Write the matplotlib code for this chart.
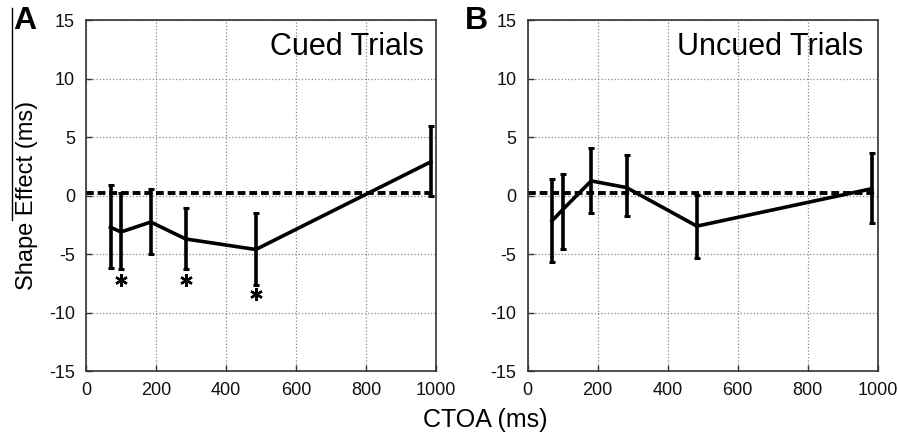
import matplotlib
matplotlib.use("Agg")
import matplotlib.pyplot as plt
from matplotlib.lines import Line2D

plt.rcParams['font.family'] = ['Liberation Sans', 'DejaVu Sans']

# Data
ctoa_cued = [70, 100, 185, 285, 485, 985]
cued_mean = [-2.7, -3.1, -2.25, -3.7, -4.6, 2.9]
cued_upper = [0.9, 0.2, 0.6, -1.05, -1.5, 6.0]
cued_lower = [-6.2, -6.3, -5.0, -6.3, -7.6, 0.0]

ctoa_uncued = [70, 100, 182, 283, 484, 983]
uncued_mean = [-2.15, -1.2, 1.27, 0.7, -2.6, 0.6]
uncued_upper = [1.4, 1.9, 4.1, 3.45, 0.1, 3.65]
uncued_lower = [-5.65, -4.6, -1.5, -1.75, -5.3, -2.3]

baseline = 0.25
sig_x = [100, 285, 485]
sig_y = [-7.2, -7.2, -8.45]

xticks = [0, 200, 400, 600, 800, 1000]
yticks = [-15, -10, -5, 0, 5, 10, 15]

fig = plt.figure(figsize=(8.98, 4.36), dpi=100)
axA = fig.add_axes([86/898, 65/436, 350/898, 350.5/436])
axB = fig.add_axes([527.5/898, 65/436, 350/898, 350.5/436])

def draw(ax, x, m, up, lo, title, title_x):
    yerr = [[mi - l for mi, l in zip(m, lo)], [u - mi for mi, u in zip(m, up)]]
    ax.axhline(baseline, color='black', lw=2.8, ls=(0, (2, 1)), zorder=2)
    ax.errorbar(x, m, yerr=yerr, color='black', lw=2.6, elinewidth=2.6,
                capsize=2.5, capthick=2.2, zorder=3)
    ax.set_xlim(0, 1000)
    ax.set_ylim(-15, 15)
    ax.set_xticks(xticks)
    ax.set_yticks(yticks)
    ax.set_xticklabels([str(t) for t in xticks])
    ax.set_yticklabels([str(t) for t in yticks])
    ax.grid(True, color='#888888', ls=':', lw=0.9)
    ax.set_axisbelow(True)
    ax.tick_params(direction='in', length=4, width=1, labelsize=13, pad=8,
                   color='#333333', labelcolor='#111111', top=False, right=False)
    for s in ax.spines.values():
        s.set_color('#333333')
        s.set_linewidth(1.2)
    ax.text(title_x, 12.7, title, ha='right', va='center', fontsize=22)

draw(axA, ctoa_cued, cued_mean, cued_upper, cued_lower, 'Cued Trials', 965)
draw(axB, ctoa_uncued, uncued_mean, uncued_upper, uncued_lower, 'Uncued Trials', 960)

axA.plot(sig_x, sig_y, ls='none', marker=(6, 2, 0), markersize=9,
         markeredgewidth=1.7, color='black', zorder=4)

axA.set_ylabel('Shape Effect (ms)', fontsize=17, labelpad=8)
fig.text(485/898, 1 - 420/436, 'CTOA (ms)', ha='center', va='center', fontsize=18)

fig.text(25/898, 1 - 21/436, 'A', ha='center', va='center', fontsize=23, fontweight='bold')
fig.text(476/898, 1 - 21/436, 'B', ha='center', va='center', fontsize=23, fontweight='bold')

fig.add_artist(Line2D([12/898, 12/898], [1 - 8/436, 1 - 220/436],
                      transform=fig.transFigure, color='black', lw=1))

fig.savefig('out.png', dpi=100)
